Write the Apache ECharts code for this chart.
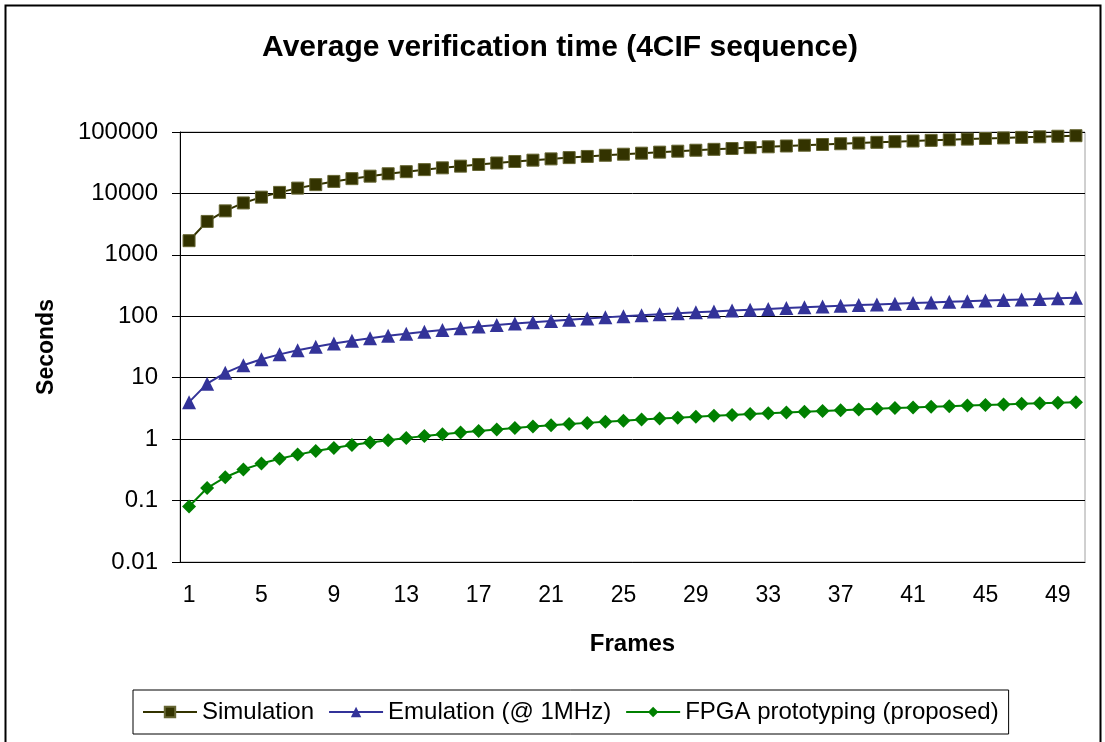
<!DOCTYPE html>
<html>
<head>
<meta charset="utf-8">
<script src="https://cdn.jsdelivr.net/npm/echarts@6/dist/echarts.min.js"></script>
<style>
    html, body { margin: 0; padding: 0; background: #fff; }
    #chart { width: 1105px; height: 742px; }
</style>
</head>
<body>
<div id="chart"></div>
<script>
// frames 1..50
var frames = [];
for (var i = 1; i <= 50; i++) frames.push(String(i));

// values (seconds, log scale)
var simulation = [
    1700, 3500, 5200, 7000, 8700, 10400, 12200, 13900, 15700, 17400,
    19100, 20900, 22600, 24400, 26100, 27800, 29600, 31300, 33100, 34800,
    36500, 38300, 40000, 41800, 43500, 45200, 47000, 48700, 50500, 52200,
    53900, 55700, 57400, 59200, 60900, 62600, 64400, 66100, 67900, 69600,
    71300, 73100, 74800, 76600, 78300, 80000, 81800, 83500, 85300, 87000
];
var emulation = [
    4, 8, 12, 16, 20, 24, 28, 32, 36, 40,
    44, 48, 52, 56, 60, 64, 68, 72, 76, 80,
    84, 88, 92, 96, 100, 104, 108, 112, 116, 120,
    124, 128, 132, 136, 140, 144, 148, 152, 156, 160,
    164, 168, 172, 176, 180, 184, 188, 192, 196, 200
];
var fpga = [
    0.08, 0.16, 0.24, 0.32, 0.4, 0.48, 0.56, 0.64, 0.72, 0.8,
    0.88, 0.96, 1.04, 1.12, 1.2, 1.28, 1.36, 1.44, 1.52, 1.6,
    1.68, 1.76, 1.84, 1.92, 2.0, 2.08, 2.16, 2.24, 2.32, 2.4,
    2.48, 2.56, 2.64, 2.72, 2.8, 2.88, 2.96, 3.04, 3.12, 3.2,
    3.28, 3.36, 3.44, 3.52, 3.6, 3.68, 3.76, 3.84, 3.92, 4.0
];

var chart = echarts.init(document.getElementById('chart'));
var font = 'Liberation Sans, Arial, sans-serif';

option = {
    animation: false,
    backgroundColor: '#fff',
    textStyle: { fontFamily: font },
    title: {
        text: 'Average verification time (4CIF sequence)',
        left: 555,
        textAlign: 'center',
        top: 28,
        textStyle: { fontFamily: font, fontSize: 30, fontWeight: 'bold', color: '#000' }
    },
    graphic: [{
        type: 'rect',
        shape: { x: 5.5, y: 5.5, width: 1095, height: 760 },
        style: { fill: 'none', stroke: '#000', lineWidth: 2 },
        silent: true
    }],
    legend: {
        left: 133,
        top: 690,
        width: 890,
        padding: [10, 10, 10, 9],
        borderColor: '#000',
        borderWidth: 1,
        itemWidth: 54,
        itemHeight: 13,
        itemGap: 14,
        textStyle: { fontFamily: font, fontSize: 24, color: '#000' },
        data: ['Simulation', 'Emulation (@ 1MHz)', 'FPGA prototyping (proposed)']
    },
    grid: {
        left: 180,
        right: 20,
        top: 132,
        bottom: 180,
        show: true,
        borderColor: '#a0a0a0',
        borderWidth: 1
    },
    xAxis: {
        type: 'category',
        data: frames,
        boundaryGap: true,
        name: 'Frames',
        nameLocation: 'middle',
        nameGap: 70,
        nameTextStyle: { fontFamily: font, fontSize: 24, fontWeight: 'bold', color: '#000' },
        axisLine: { lineStyle: { color: '#000', width: 1 } },
        axisTick: { interval: 0, length: 6, lineStyle: { color: '#000' } },
        axisLabel: { interval: 3, margin: 22, fontFamily: font, fontSize: 23, color: '#000' },
        splitLine: { show: false }
    },
    yAxis: {
        type: 'log',
        logBase: 10,
        min: 0.01,
        max: 100000,
        name: 'Seconds',
        nameLocation: 'middle',
        nameGap: 122,
        nameRotate: 90,
        nameTextStyle: { fontFamily: font, fontSize: 23, fontWeight: 'bold', color: '#000' },
        axisLine: { show: true, lineStyle: { color: '#000', width: 1 } },
        axisTick: { show: true, length: 8, lineStyle: { color: '#000' } },
        axisLabel: {
            margin: 22, fontFamily: font, fontSize: 24, color: '#000',
            formatter: function (v) {
                return String(Number(v.toPrecision(6)));
            }
        },
        splitLine: { show: true, lineStyle: { color: '#000', width: 1 } }
    },
    series: [{
        name: 'Simulation',
        type: 'line',
        data: simulation,
        showAllSymbol: true,
        symbol: 'rect',
        symbolSize: 12,
        color: '#333300',
        lineStyle: { width: 2, color: '#333300' },
        itemStyle: { color: '#333300', borderColor: '#666633', borderWidth: 1 }
    }, {
        name: 'Emulation (@ 1MHz)',
        type: 'line',
        data: emulation,
        showAllSymbol: true,
        symbol: 'triangle',
        symbolSize: 14,
        color: '#333399',
        lineStyle: { width: 2, color: '#333399' },
        itemStyle: { color: '#333399' }
    }, {
        name: 'FPGA prototyping (proposed)',
        type: 'line',
        data: fpga,
        showAllSymbol: true,
        symbol: 'diamond',
        symbolSize: 14,
        color: '#008000',
        lineStyle: { width: 2, color: '#008000' },
        itemStyle: { color: '#008000' }
    }]
};
chart.setOption(option);
</script>
</body>
</html>
